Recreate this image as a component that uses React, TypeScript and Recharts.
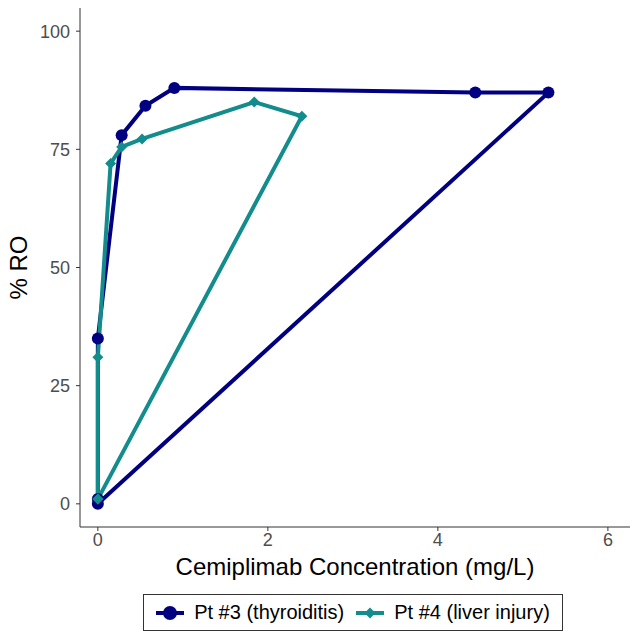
import React from "react";
import {
  LineChart,
  Line,
  XAxis,
  YAxis,
} from "recharts";

// concentration (mg/L) vs receptor occupancy (%), in sampling order
const pt3Conc = [0, 0, 0.28, 0.56, 0.9, 4.44, 5.3, 0];
const pt3RO = [1, 35, 78, 84.2, 88, 87, 87, 0];

const pt4Conc = [0, 0, 0.15, 0.28, 0.52, 1.84, 2.4, 0];
const pt4RO = [1, 31, 72, 75.5, 77.2, 85, 82, 1];

const xTicks = [0, 2, 4, 6];
const yTicks = [0, 25, 50, 75, 100];

const seriesNames = ["Pt #3 (thyroiditis)", "Pt #4 (liver injury)"];
const NAVY = "#000080";
const TEAL = "#128C8C";

const pt3Data = pt3Conc.map((x, i) => ({ x, y: pt3RO[i] }));
const pt4Data = pt4Conc.map((x, i) => ({ x, y: pt4RO[i] }));

const FONT = "'Liberation Sans', Arial, sans-serif";

const Diamond = (props: any) => {
  const { cx, cy, fill } = props;
  if (cx == null || cy == null) return null;
  const r = 5.5;
  return (
    <polygon
      points={`${cx},${cy - r} ${cx + r},${cy} ${cx},${cy + r} ${cx - r},${cy}`}
      fill={fill}
    />
  );
};

const tickStyle = { fontSize: 18, fill: "#4d4d4d", fontFamily: FONT };

const App: React.FC = () => {
  return (
    <div style={{ position: "relative", width: 637, height: 637, fontFamily: FONT }}>
      <style>{`body{margin:0}`}</style>
      <LineChart
        width={637}
        height={637}
        margin={{ top: 8, right: 7, left: 0, bottom: 50 }}
      >
        <XAxis
          type="number"
          dataKey="x"
          domain={[-0.21, 6.26]}
          ticks={xTicks}
          allowDataOverflow
          height={60}
          stroke="#333"
          tickSize={4}
          tick={tickStyle}
          label={{
            value: "Cemiplimab Concentration (mg/L)",
            position: "insideBottom",
            offset: 12,
            style: { fontSize: 24, fill: "#000", fontFamily: FONT },
          }}
        />
        <YAxis
          type="number"
          dataKey="y"
          domain={[-4.9, 104.9]}
          ticks={yTicks}
          allowDataOverflow
          width={80}
          stroke="#333"
          tickSize={4}
          tickMargin={6}
          tick={tickStyle}
          label={{
            value: "% RO",
            angle: -90,
            position: "insideLeft",
            offset: 18,
            style: { fontSize: 24, fill: "#000", fontFamily: FONT, textAnchor: "middle" },
          }}
        />
        <Line
          data={pt3Data}
          dataKey="y"
          name={seriesNames[0]}
          stroke={NAVY}
          strokeWidth={4}
          dot={{ r: 6, fill: NAVY, stroke: NAVY, strokeWidth: 0 }}
          isAnimationActive={false}
        />
        <Line
          data={pt4Data}
          dataKey="y"
          name={seriesNames[1]}
          stroke={TEAL}
          strokeWidth={4}
          dot={(p: any) => <Diamond key={`d-${p.index}`} {...p} fill={TEAL} />}
          isAnimationActive={false}
        />
      </LineChart>

      {/* legend box */}
      <div
        style={{
          position: "absolute",
          left: 143,
          top: 594,
          width: 420,
          height: 37,
          boxSizing: "border-box",
          border: "1px solid #333",
          display: "flex",
          alignItems: "center",
          justifyContent: "center",
          gap: 12,
          fontSize: 20,
          color: "#000",
        }}
      >
        {seriesNames.map((name, i) => (
          <div key={name} style={{ display: "flex", alignItems: "center", gap: 10 }}>
            <svg width={28} height={18}>
              <line x1={0} y1={9} x2={28} y2={9} stroke={i === 0 ? NAVY : TEAL} strokeWidth={4} />
              {i === 0 ? (
                <circle cx={14} cy={9} r={7} fill={NAVY} />
              ) : (
                <polygon points="14,3.5 19.5,9 14,14.5 8.5,9" fill={TEAL} />
              )}
            </svg>
            <span>{name}</span>
          </div>
        ))}
      </div>
    </div>
  );
};

export default App;
